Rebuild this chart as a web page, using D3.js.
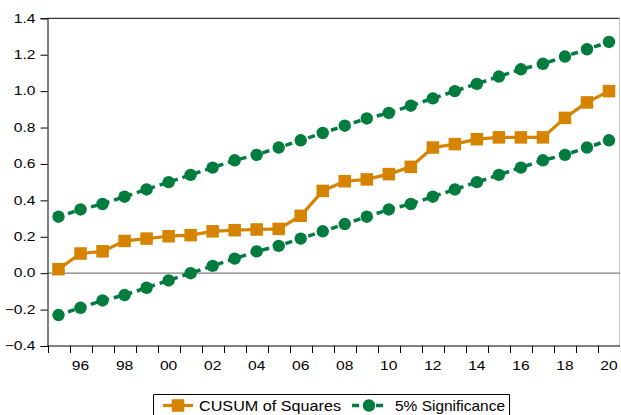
<!DOCTYPE html>
<html>
<head>
<meta charset="utf-8">
<script src="https://cdn.jsdelivr.net/npm/d3@7"></script>
<style>
  html, body { margin: 0; padding: 0; background: #fff; }
  svg { display: block; }
  text { font-family: "Liberation Sans", Arial, sans-serif; }
</style>
</head>
<body>
<svg id="chart" width="621" height="415"></svg>
<script>
// Observation years
const years = [1995, 1996, 1997, 1998, 1999, 2000, 2001, 2002, 2003, 2004, 2005, 2006, 2007,
               2008, 2009, 2010, 2011, 2012, 2013, 2014, 2015, 2016, 2017, 2018, 2019, 2020];

// CUSUM of squares statistic
const cusumSq = [0.022, 0.108, 0.120, 0.177, 0.190, 0.203, 0.209, 0.230, 0.236, 0.240, 0.243, 0.315, 0.452,
                 0.505, 0.515, 0.544, 0.584, 0.690, 0.709, 0.736, 0.746, 0.746, 0.746, 0.853, 0.938, 1.000];

// 5% significance bounds
const upperBound = [0.31, 0.35, 0.38, 0.42, 0.46, 0.50, 0.54, 0.58, 0.62, 0.65, 0.69, 0.73, 0.77,
                    0.81, 0.85, 0.88, 0.92, 0.96, 1.00, 1.04, 1.08, 1.12, 1.15, 1.19, 1.23, 1.27];
const lowerBound = [-0.23, -0.19, -0.15, -0.12, -0.08, -0.04, 0.00, 0.04, 0.08, 0.12, 0.15, 0.19, 0.23,
                    0.27, 0.31, 0.35, 0.38, 0.42, 0.46, 0.50, 0.54, 0.58, 0.62, 0.65, 0.69, 0.73];

// Axis ticks
const yTicks = [-0.4, -0.2, 0.0, 0.2, 0.4, 0.6, 0.8, 1.0, 1.2, 1.4];
const xLabelYears = [1996, 1998, 2000, 2002, 2004, 2006, 2008, 2010, 2012, 2014, 2016, 2018, 2020];

const seriesNames = ["CUSUM of Squares", "5% Significance"];

const ORANGE = "#d68300";
const GREEN = "#007c3e";
const AXIS_FONT = 12.5, AXIS_STRETCH = 1.25;
const LEGEND_FONT = 15;

const svg = d3.select("#chart");
const plot = { left: 47.5, right: 620, top: 18.3, bottom: 346 };

// Each year occupies one band; marks sit at the band centre
const x = d3.scaleBand()
  .domain(years)
  .range([plot.left, plot.right])
  .paddingInner(0).paddingOuter(0);
const xc = yr => x(yr) + x.bandwidth() / 2;

const y = d3.scaleLinear()
  .domain([-0.4, 1.4])
  .range([plot.bottom, plot.top]);

// Frame: top and right borders
svg.append("line")
  .attr("x1", plot.left).attr("x2", plot.right)
  .attr("y1", plot.top).attr("y2", plot.top)
  .attr("stroke", "#000").attr("stroke-width", 1);
svg.append("line")
  .attr("x1", plot.right - 0.5).attr("x2", plot.right - 0.5)
  .attr("y1", plot.top).attr("y2", plot.bottom)
  .attr("stroke", "#c8c8c8").attr("stroke-width", 1);

// Zero reference line
svg.append("line")
  .attr("x1", plot.left).attr("x2", plot.right)
  .attr("y1", y(0)).attr("y2", y(0))
  .attr("stroke", "#808080").attr("stroke-width", 1.2);

// Y axis (line and ticks from d3, labels drawn wide)
const yAxis = d3.axisLeft(y)
  .tickValues(yTicks)
  .tickSize(7)
  .tickFormat("");
const gy = svg.append("g")
  .attr("transform", `translate(${plot.left},0)`)
  .call(yAxis);
gy.select(".domain").attr("stroke", "#000");
gy.selectAll(".tick line").attr("stroke", "#000");
svg.append("g").selectAll("text")
  .data(yTicks)
  .join("text")
  .attr("transform", d => `translate(35.5,${y(d)}) scale(${AXIS_STRETCH},1)`)
  .attr("dy", "0.34em")
  .attr("text-anchor", "end")
  .attr("font-size", AXIS_FONT)
  .attr("fill", "#000")
  .text(d3.format(".1f"));

// X axis: ticks at year boundaries, labels centred in the year band
const boundaries = years.map(yr => x(yr));
const gx = svg.append("g");
gx.append("line")
  .attr("x1", plot.left).attr("x2", plot.right)
  .attr("y1", plot.bottom).attr("y2", plot.bottom)
  .attr("stroke", "#000").attr("stroke-width", 1);
gx.selectAll("line.tick")
  .data(boundaries)
  .join("line")
  .attr("class", "tick")
  .attr("x1", d => Math.round(d) + 0.5).attr("x2", d => Math.round(d) + 0.5)
  .attr("y1", plot.bottom).attr("y2", plot.bottom + 7)
  .attr("stroke", "#000").attr("stroke-width", 1);
gx.selectAll("text")
  .data(xLabelYears)
  .join("text")
  .attr("transform", d => `translate(${xc(d)},${plot.bottom + 23.5}) scale(${AXIS_STRETCH},1)`)
  .attr("text-anchor", "middle")
  .attr("font-size", AXIS_FONT)
  .attr("fill", "#000")
  .text(d => String(d % 100).padStart(2, "0"));

// Significance bounds
const boundLine = vals => d3.line()
  .x((d, i) => xc(years[i]))
  .y(d => y(d))(vals);

[upperBound, lowerBound].forEach(vals => {
  svg.append("path")
    .attr("d", boundLine(vals))
    .attr("fill", "none")
    .attr("stroke", GREEN)
    .attr("stroke-width", 3.5)
    .attr("stroke-dasharray", "7,5")
    .attr("stroke-dashoffset", 2);
  svg.append("g").selectAll("circle")
    .data(vals)
    .join("circle")
    .attr("cx", (d, i) => xc(years[i]))
    .attr("cy", d => y(d))
    .attr("r", 6.2)
    .attr("fill", GREEN);
});

// CUSUM of squares series
svg.append("path")
  .attr("d", d3.line().x((d, i) => xc(years[i])).y(d => y(d))(cusumSq))
  .attr("fill", "none")
  .attr("stroke", ORANGE)
  .attr("stroke-width", 3.2)
  .attr("stroke-linejoin", "round");
const sq = 12.5;
svg.append("g").selectAll("rect")
  .data(cusumSq)
  .join("rect")
  .attr("x", (d, i) => xc(years[i]) - sq / 2)
  .attr("y", d => y(d) - sq / 2)
  .attr("width", sq).attr("height", sq)
  .attr("fill", ORANGE);

// Legend
const legend = svg.append("g");
legend.append("path")
  .attr("d", "M153.5,415 V394.5 H509.5 V415")
  .attr("fill", "none")
  .attr("stroke", "#000")
  .attr("stroke-width", 1);
const ly = 405.5;
// orange sample
legend.append("line")
  .attr("x1", 163).attr("x2", 193).attr("y1", ly).attr("y2", ly)
  .attr("stroke", ORANGE).attr("stroke-width", 3.2);
legend.append("rect")
  .attr("x", 178 - sq / 2).attr("y", ly - sq / 2)
  .attr("width", sq).attr("height", sq)
  .attr("fill", ORANGE);
legend.append("text")
  .attr("x", 199).attr("y", 411)
  .attr("font-size", LEGEND_FONT)
  .attr("textLength", 142)
  .attr("lengthAdjust", "spacingAndGlyphs")
  .attr("fill", "#000")
  .text(seriesNames[0]);
// green sample
legend.append("line")
  .attr("x1", 352).attr("x2", 388).attr("y1", ly).attr("y2", ly)
  .attr("stroke", GREEN).attr("stroke-width", 3.5)
  .attr("stroke-dasharray", "7,5");
legend.append("circle")
  .attr("cx", 369).attr("cy", ly).attr("r", 6.2)
  .attr("fill", GREEN);
legend.append("text")
  .attr("x", 395).attr("y", 411)
  .attr("font-size", LEGEND_FONT)
  .attr("textLength", 110)
  .attr("lengthAdjust", "spacingAndGlyphs")
  .attr("fill", "#000")
  .text(seriesNames[1]);
</script>
</body>
</html>
